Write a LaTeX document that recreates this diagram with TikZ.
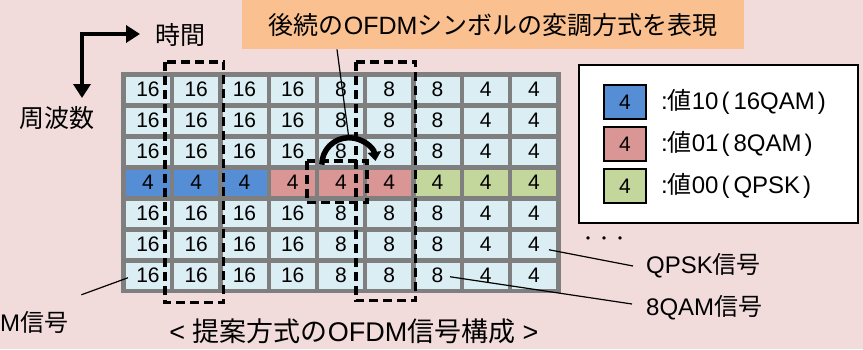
\documentclass[tikz,border=0pt]{standalone}
\usepackage{fontspec}
\setmainfont{Liberation Sans}
\newfontfamily\cjk{Noto Sans CJK JP}
\usetikzlibrary{arrows.meta,calc}
\definecolor{bgpink}{HTML}{F2DCDB}
\definecolor{bannerorange}{HTML}{FAC090}
\definecolor{celllight}{HTML}{DBEEF4}
\definecolor{cblue}{HTML}{558ED5}
\definecolor{cpink}{HTML}{D99694}
\definecolor{cgreen}{HTML}{C3D69B}
\definecolor{gridgray}{HTML}{7F7F7F}
\newcommand{\fsz}[1]{\fontsize{#1}{#1}\selectfont}
\tikzset{
  cell/.style={minimum width=44, minimum height=25.5, inner sep=0pt, font=\fsz{21}},
  dashbox/.style={draw=black, line width=3.5pt, dash pattern=on 9pt off 5pt},
  axisarrow/.style={line width=4pt, -{Triangle[length=14pt,width=17pt]}},
  swatch/.style={draw=black, line width=2.5pt, minimum width=42, minimum height=34, inner sep=0pt, font=\fsz{21}},
  lbl/.style={inner sep=0pt, anchor=west},
  thinline/.style={line width=1.2pt},
}
\begin{document}
\begin{tikzpicture}[x=1pt,y=-1pt]
\fill[bgpink] (0,0) rectangle (863,349);
\useasboundingbox (0,0) rectangle (863,349);

% banner
\node[fill=bannerorange, minimum width=502, minimum height=49, inner sep=0pt, anchor=north west, font=\fsz{25}] (banner) at (242,0)
  {{\cjk 後続の}OFDM{\cjk シンボルの変調方式を表現}};

% axes
\coordinate (corner) at (82,34);
\coordinate (tend) at (140,34);
\coordinate (fend) at (82,98);
\draw[axisarrow] ($(corner)+(-2,0)$) -- (tend);
\draw[axisarrow] ($(corner)+(0,-2)$) -- (fend);
\node[inner sep=0pt, font=\fsz{25}\cjk] (time) at (180,35) {時間};
\node[inner sep=0pt, font=\fsz{25}\cjk] (freq) at (57,118) {周波数};

% grid
\fill[gridgray] (120.5,72) rectangle (561,293);
\foreach \r in {1,2,3,5,6,7} {
  \foreach \c/\v in {1/16,2/16,3/16,4/16,5/8,6/8,7/8,8/4,9/4} {
    \node[cell, fill=celllight] (c-\r-\c) at ({148+48.25*(\c-1)}, {89.75+31*(\r-1)}) {\v};
  }
}
\foreach \c/\col in {1/cblue,2/cblue,3/cblue,4/cpink,5/cpink,6/cpink,7/cgreen,8/cgreen,9/cgreen} {
  \node[cell, fill=\col] (c-4-\c) at ({148+48.25*(\c-1)}, {89.75+31*3}) {4};
}

% dashed boxes
\draw[dashbox] ($(c-1-2.north west)+(-9,-15)$) rectangle ($(c-7-2.south east)+(5,14)$);
\draw[dashbox] ($(c-1-6.north west)+(-11,-15)$) rectangle ($(c-7-6.south east)+(4,12)$);
\draw[dashbox] ($(c-4-5.north west)+(-12,-9)$) rectangle ($(c-4-5.south east)+(4,7)$);

% curved arrow
\coordinate (arcs) at ($(c-3-5.south west)+(3,0)$);
\coordinate (arctop) at ($(arcs)+(27,-27)$);
\draw[line width=5.5pt, -{Triangle[length=9pt,width=13pt]}] (arcs) arc[start angle=180, end angle=352, radius=27];
\draw[thinline] ($(banner.south west)+(95,0)$) -- (arctop);

% legend
\node[draw=black, line width=2pt, fill=white, minimum width=279, minimum height=158, inner sep=0pt, anchor=north west] (legend) at (578,64) {};
\node[swatch, fill=cblue] (s1) at (625,102) {4};
\node[swatch, fill=cpink] (s2) at (625,144) {4};
\node[swatch, fill=cgreen] (s3) at (625,186) {4};
\node[lbl, font=\fsz{24}] (l1) at (661,102) {:{\cjk 値}10\hspace{3pt}(\hspace{4pt}16QAM\hspace{3pt})};
\node[lbl, font=\fsz{24}] (l2) at (661,144) {:{\cjk 値}01\hspace{3pt}(\hspace{4pt}8QAM\hspace{3pt})};
\node[lbl, font=\fsz{24}] (l3) at (661,186) {:{\cjk 値}00\hspace{3pt}(\hspace{4pt}QPSK\hspace{3pt})};

% dots and signal labels
\node[inner sep=0pt, font=\fsz{16}\cjk] (dots) at (604,241) {・・・};
\node[lbl, font=\fsz{24}] (qpsk) at (646,266) {QPSK{\cjk 信号}};
\node[lbl, font=\fsz{24}] (qam8) at (646,308) {8QAM{\cjk 信号}};
\node[lbl, font=\fsz{24}] (msig) at (0,322) {M{\cjk 信号}};
\draw[thinline] ($(c-6-9.center)+(15,5)$) -- ($(qpsk.west)+(-13,0)$);
\draw[thinline] ($(c-7-7.center)+(12.5,1)$) -- ($(qam8.west)+(-14,-4)$);
\draw[thinline] ($(c-7-1.center)+(-20,2)$) -- ($(msig.north east)+(13,-16)$);

% caption
\node[inner sep=0pt, font=\fsz{27}] (caption) at (354,331) {< {\cjk 提案方式の}OFDM{\cjk 信号構成} >};
\end{tikzpicture}
\end{document}
